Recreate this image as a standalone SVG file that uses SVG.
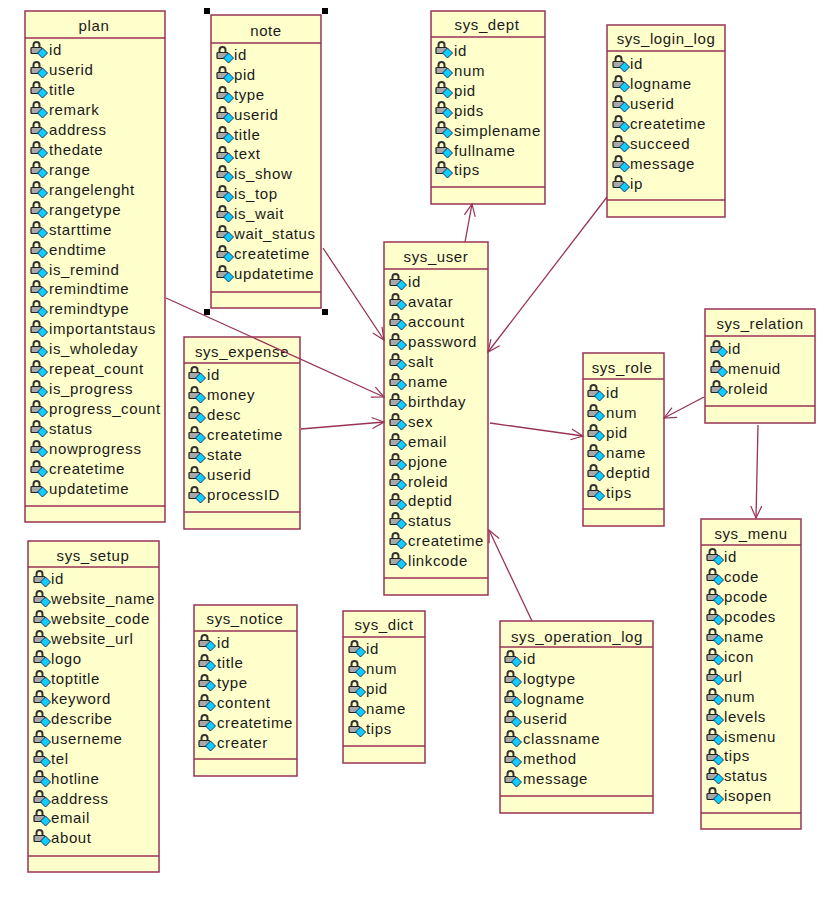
<svg xmlns="http://www.w3.org/2000/svg" width="831" height="900" viewBox="0 0 831 900">
<style>
.b{fill:#ffffcc;stroke:#993355;stroke-width:1.5}
.l{stroke:#993355;stroke-width:1.5;fill:none}
.c{stroke:#993355;stroke-width:1.3;fill:none;marker-end:url(#a)}
text{font-family:"Liberation Sans",Arial,sans-serif;font-size:15px;letter-spacing:.6px;fill:#1a1a1a}
.t{text-anchor:middle}
.h{fill:#000}
</style>
<defs>
<marker id="a" markerUnits="userSpaceOnUse" markerWidth="16" markerHeight="14" refX="13" refY="7" orient="auto" overflow="visible"><path d="M1,1.5L13,7L1,12.5" fill="none" stroke="#993355" stroke-width="1.2"/></marker>
<g id="k">
<path d="M3.5,0V-3a3,3 0 0 1 6,0V0" fill="none" stroke="#333" stroke-width="2"/>
<rect x="1" y="-0.5" width="11" height="6" rx="1" fill="#a8a8a8" stroke="#222" stroke-width="1.2"/>
<path d="M12.5,0L17.5,5L12.5,10L7.5,5Z" fill="#11ccff" stroke="#0b3a66" stroke-width="1"/>
</g>
</defs>
<g id="plan">
<rect class="b" x="25" y="11" width="140" height="511"/><path class="l" d="M25,38H165M25,506H165"/>
<text class="t" x="94" y="31">plan</text>
<use href="#k" x="30" y="48"/><text x="49" y="55">id</text>
<use href="#k" x="30" y="68"/><text x="49" y="75">userid</text>
<use href="#k" x="30" y="88"/><text x="49" y="95">title</text>
<use href="#k" x="30" y="108"/><text x="49" y="115">remark</text>
<use href="#k" x="30" y="128"/><text x="49" y="135">address</text>
<use href="#k" x="30" y="148"/><text x="49" y="155">thedate</text>
<use href="#k" x="30" y="168"/><text x="49" y="175">range</text>
<use href="#k" x="30" y="188"/><text x="49" y="195">rangelenght</text>
<use href="#k" x="30" y="208"/><text x="49" y="215">rangetype</text>
<use href="#k" x="30" y="228"/><text x="49" y="235">starttime</text>
<use href="#k" x="30" y="248"/><text x="49" y="255">endtime</text>
<use href="#k" x="30" y="268"/><text x="49" y="275">is_remind</text>
<use href="#k" x="30" y="287"/><text x="49" y="294">remindtime</text>
<use href="#k" x="30" y="307"/><text x="49" y="314">remindtype</text>
<use href="#k" x="30" y="327"/><text x="49" y="334">importantstaus</text>
<use href="#k" x="30" y="347"/><text x="49" y="354">is_wholeday</text>
<use href="#k" x="30" y="367"/><text x="49" y="374">repeat_count</text>
<use href="#k" x="30" y="387"/><text x="49" y="394">is_progress</text>
<use href="#k" x="30" y="407"/><text x="49" y="414">progress_count</text>
<use href="#k" x="30" y="427"/><text x="49" y="434">status</text>
<use href="#k" x="30" y="447"/><text x="49" y="454">nowprogress</text>
<use href="#k" x="30" y="467"/><text x="49" y="474">createtime</text>
<use href="#k" x="30" y="487"/><text x="49" y="494">updatetime</text>
</g>
<g id="note">
<rect class="b" x="211" y="15" width="110" height="293"/><path class="l" d="M211,43H321M211,292H321"/>
<text class="t" x="266" y="36">note</text>
<use href="#k" x="216" y="53"/><text x="234" y="60">id</text>
<use href="#k" x="216" y="73"/><text x="234" y="80">pid</text>
<use href="#k" x="216" y="93"/><text x="234" y="100">type</text>
<use href="#k" x="216" y="113"/><text x="234" y="120">userid</text>
<use href="#k" x="216" y="133"/><text x="234" y="140">title</text>
<use href="#k" x="216" y="153"/><text x="234" y="159">text</text>
<use href="#k" x="216" y="172"/><text x="234" y="179">is_show</text>
<use href="#k" x="216" y="192"/><text x="234" y="199">is_top</text>
<use href="#k" x="216" y="212"/><text x="234" y="219">is_wait</text>
<use href="#k" x="216" y="232"/><text x="234" y="239">wait_status</text>
<use href="#k" x="216" y="252"/><text x="234" y="259">createtime</text>
<use href="#k" x="216" y="272"/><text x="234" y="279">updatetime</text>
<rect class="h" x="204" y="8" width="6" height="6"/><rect class="h" x="322" y="8" width="6" height="6"/><rect class="h" x="204" y="309" width="6" height="6"/><rect class="h" x="322" y="309" width="6" height="6"/>
</g>
<g id="sys_dept">
<rect class="b" x="431" y="11" width="114" height="193"/><path class="l" d="M431,37H545M431,187H545"/>
<text class="t" x="487" y="30">sys_dept</text>
<use href="#k" x="435" y="48"/><text x="454" y="56">id</text>
<use href="#k" x="435" y="68"/><text x="454" y="76">num</text>
<use href="#k" x="435" y="88"/><text x="454" y="96">pid</text>
<use href="#k" x="435" y="108"/><text x="454" y="116">pids</text>
<use href="#k" x="435" y="128"/><text x="454" y="136">simplename</text>
<use href="#k" x="435" y="148"/><text x="454" y="156">fullname</text>
<use href="#k" x="435" y="168"/><text x="454" y="175">tips</text>
</g>
<g id="sys_login_log">
<rect class="b" x="607" y="25" width="118" height="192"/><path class="l" d="M607,51H725M607,200H725"/>
<text class="t" x="666" y="44">sys_login_log</text>
<use href="#k" x="612" y="62"/><text x="630" y="69">id</text>
<use href="#k" x="612" y="82"/><text x="630" y="89">logname</text>
<use href="#k" x="612" y="102"/><text x="630" y="109">userid</text>
<use href="#k" x="612" y="122"/><text x="630" y="129">createtime</text>
<use href="#k" x="612" y="142"/><text x="630" y="149">succeed</text>
<use href="#k" x="612" y="162"/><text x="630" y="169">message</text>
<use href="#k" x="612" y="182"/><text x="630" y="189">ip</text>
</g>
<g id="sys_user">
<rect class="b" x="384" y="242" width="104" height="353"/><path class="l" d="M384,269H488M384,578H488"/>
<text class="t" x="436" y="262">sys_user</text>
<use href="#k" x="389" y="280"/><text x="408" y="287">id</text>
<use href="#k" x="389" y="300"/><text x="408" y="307">avatar</text>
<use href="#k" x="389" y="320"/><text x="408" y="327">account</text>
<use href="#k" x="389" y="340"/><text x="408" y="347">password</text>
<use href="#k" x="389" y="360"/><text x="408" y="367">salt</text>
<use href="#k" x="389" y="380"/><text x="408" y="387">name</text>
<use href="#k" x="389" y="400"/><text x="408" y="407">birthday</text>
<use href="#k" x="389" y="420"/><text x="408" y="427">sex</text>
<use href="#k" x="389" y="440"/><text x="408" y="447">email</text>
<use href="#k" x="389" y="460"/><text x="408" y="467">pjone</text>
<use href="#k" x="389" y="480"/><text x="408" y="487">roleid</text>
<use href="#k" x="389" y="500"/><text x="408" y="506">deptid</text>
<use href="#k" x="389" y="519"/><text x="408" y="526">status</text>
<use href="#k" x="389" y="539"/><text x="408" y="546">createtime</text>
<use href="#k" x="389" y="559"/><text x="408" y="566">linkcode</text>
</g>
<g id="sys_expense">
<rect class="b" x="184" y="337" width="116" height="192"/><path class="l" d="M184,363H300M184,512H300"/>
<text class="t" x="242" y="357">sys_expense</text>
<use href="#k" x="188" y="373"/><text x="207" y="380">id</text>
<use href="#k" x="188" y="393"/><text x="207" y="400">money</text>
<use href="#k" x="188" y="413"/><text x="207" y="420">desc</text>
<use href="#k" x="188" y="433"/><text x="207" y="440">createtime</text>
<use href="#k" x="188" y="453"/><text x="207" y="460">state</text>
<use href="#k" x="188" y="473"/><text x="207" y="480">userid</text>
<use href="#k" x="188" y="493"/><text x="207" y="500">processID</text>
</g>
<g id="sys_role">
<rect class="b" x="583" y="353" width="81" height="173"/><path class="l" d="M583,379H664M583,509H664"/>
<text class="t" x="622" y="373">sys_role</text>
<use href="#k" x="587" y="391"/><text x="606" y="398">id</text>
<use href="#k" x="587" y="411"/><text x="606" y="418">num</text>
<use href="#k" x="587" y="431"/><text x="606" y="438">pid</text>
<use href="#k" x="587" y="451"/><text x="606" y="458">name</text>
<use href="#k" x="587" y="471"/><text x="606" y="478">deptid</text>
<use href="#k" x="587" y="491"/><text x="606" y="498">tips</text>
</g>
<g id="sys_relation">
<rect class="b" x="705" y="309" width="110" height="114"/><path class="l" d="M705,336H815M705,406H815"/>
<text class="t" x="760" y="329">sys_relation</text>
<use href="#k" x="710" y="347"/><text x="728" y="354">id</text>
<use href="#k" x="710" y="367"/><text x="728" y="374">menuid</text>
<use href="#k" x="710" y="387"/><text x="728" y="394">roleid</text>
</g>
<g id="sys_menu">
<rect class="b" x="701" y="519" width="100" height="310"/><path class="l" d="M701,545H801M701,813H801"/>
<text class="t" x="751" y="539">sys_menu</text>
<use href="#k" x="706" y="555"/><text x="724" y="562">id</text>
<use href="#k" x="706" y="575"/><text x="724" y="582">code</text>
<use href="#k" x="706" y="595"/><text x="724" y="602">pcode</text>
<use href="#k" x="706" y="615"/><text x="724" y="622">pcodes</text>
<use href="#k" x="706" y="635"/><text x="724" y="642">name</text>
<use href="#k" x="706" y="655"/><text x="724" y="662">icon</text>
<use href="#k" x="706" y="675"/><text x="724" y="682">url</text>
<use href="#k" x="706" y="695"/><text x="724" y="702">num</text>
<use href="#k" x="706" y="715"/><text x="724" y="722">levels</text>
<use href="#k" x="706" y="735"/><text x="724" y="742">ismenu</text>
<use href="#k" x="706" y="755"/><text x="724" y="761">tips</text>
<use href="#k" x="706" y="774"/><text x="724" y="781">status</text>
<use href="#k" x="706" y="794"/><text x="724" y="801">isopen</text>
</g>
<g id="sys_setup">
<rect class="b" x="28" y="541" width="131" height="331"/><path class="l" d="M28,567H159M28,856H159"/>
<text class="t" x="93" y="561">sys_setup</text>
<use href="#k" x="33" y="577"/><text x="51" y="584">id</text>
<use href="#k" x="33" y="597"/><text x="51" y="604">website_name</text>
<use href="#k" x="33" y="617"/><text x="51" y="624">website_code</text>
<use href="#k" x="33" y="637"/><text x="51" y="644">website_url</text>
<use href="#k" x="33" y="657"/><text x="51" y="664">logo</text>
<use href="#k" x="33" y="677"/><text x="51" y="684">toptitle</text>
<use href="#k" x="33" y="697"/><text x="51" y="704">keyword</text>
<use href="#k" x="33" y="717"/><text x="51" y="724">describe</text>
<use href="#k" x="33" y="737"/><text x="51" y="744">userneme</text>
<use href="#k" x="33" y="757"/><text x="51" y="764">tel</text>
<use href="#k" x="33" y="777"/><text x="51" y="784">hotline</text>
<use href="#k" x="33" y="797"/><text x="51" y="804">address</text>
<use href="#k" x="33" y="816"/><text x="51" y="823">email</text>
<use href="#k" x="33" y="836"/><text x="51" y="843">about</text>
</g>
<g id="sys_notice">
<rect class="b" x="194" y="605" width="103" height="171"/><path class="l" d="M194,631H297M194,759H297"/>
<text class="t" x="245" y="624">sys_notice</text>
<use href="#k" x="198" y="641"/><text x="217" y="648">id</text>
<use href="#k" x="198" y="661"/><text x="217" y="668">title</text>
<use href="#k" x="198" y="681"/><text x="217" y="688">type</text>
<use href="#k" x="198" y="701"/><text x="217" y="708">content</text>
<use href="#k" x="198" y="721"/><text x="217" y="728">createtime</text>
<use href="#k" x="198" y="741"/><text x="217" y="748">creater</text>
</g>
<g id="sys_dict">
<rect class="b" x="343" y="611" width="82" height="152"/><path class="l" d="M343,637H425M343,746H425"/>
<text class="t" x="384" y="630">sys_dict</text>
<use href="#k" x="348" y="647"/><text x="366" y="654">id</text>
<use href="#k" x="348" y="667"/><text x="366" y="674">num</text>
<use href="#k" x="348" y="687"/><text x="366" y="694">pid</text>
<use href="#k" x="348" y="707"/><text x="366" y="714">name</text>
<use href="#k" x="348" y="727"/><text x="366" y="734">tips</text>
</g>
<g id="sys_operation_log">
<rect class="b" x="500" y="621" width="153" height="192"/><path class="l" d="M500,647H653M500,796H653"/>
<text class="t" x="577" y="642">sys_operation_log</text>
<use href="#k" x="504" y="657"/><text x="523" y="664">id</text>
<use href="#k" x="504" y="677"/><text x="523" y="684">logtype</text>
<use href="#k" x="504" y="697"/><text x="523" y="704">logname</text>
<use href="#k" x="504" y="717"/><text x="523" y="724">userid</text>
<use href="#k" x="504" y="737"/><text x="523" y="744">classname</text>
<use href="#k" x="504" y="757"/><text x="523" y="764">method</text>
<use href="#k" x="504" y="777"/><text x="523" y="784">message</text>
</g>
<g id="connectors">
<path class="c" d="M465,242L472,204"/>
<path class="c" d="M607,197L488,352"/>
<path class="c" d="M323,248L384,340"/>
<path class="c" d="M166,298L384,397"/>
<path class="c" d="M301,429L384,422"/>
<path class="c" d="M490,423L583,436"/>
<path class="c" d="M704,397L664,418"/>
<path class="c" d="M758,425L756,518"/>
<path class="c" d="M532,621L489,530"/>
</g>
</svg>
